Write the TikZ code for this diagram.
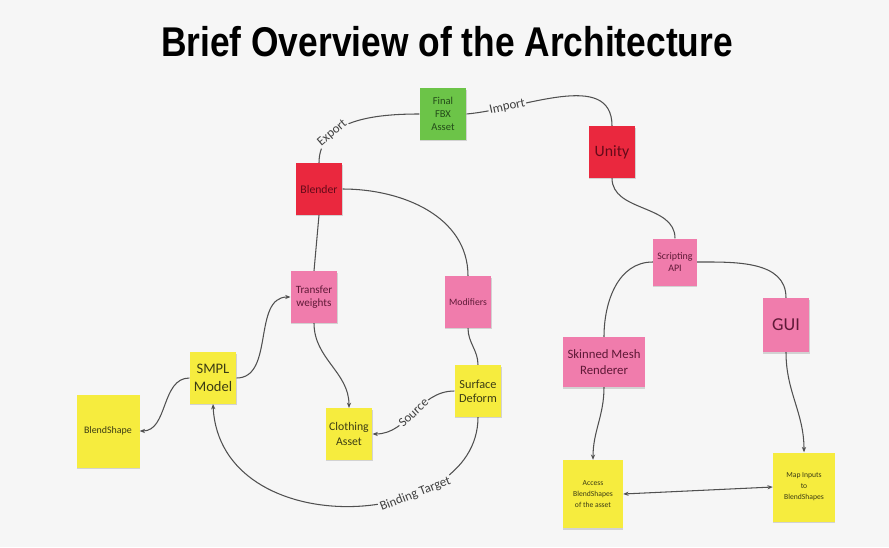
\documentclass[tikz,border=0pt]{standalone}
\usepackage{fontspec}
\setmainfont{Carlito}
\newfontfamily\titlefont{Liberation Sans}
\usepackage{graphicx}
\usetikzlibrary{arrows.meta,shadows}
\pgfdeclarelayer{bg}
\pgfsetlayers{bg,main}
\definecolor{paper}{RGB}{246,246,246}
\definecolor{wire}{RGB}{80,80,80}
\definecolor{notegreen}{RGB}{108,196,72}
\definecolor{notered}{RGB}{234,40,62}
\definecolor{notepink}{RGB}{240,124,172}
\definecolor{noteyellow}{RGB}{246,236,62}
\definecolor{inkgreen}{RGB}{35,75,25}
\definecolor{inkred}{RGB}{100,10,25}
\definecolor{inkpink}{RGB}{95,25,55}
\definecolor{inkyellow}{RGB}{60,60,20}
\tikzset{
    note/.style={rectangle, inner sep=1pt, align=center, minimum width=1.4cm, minimum height=1.55cm,
        drop shadow={shadow xshift=0.2pt, shadow yshift=-1.3pt, opacity=.3}},
    greennote/.style={note, fill=notegreen, text=inkgreen},
    rednote/.style={note, fill=notered, text=inkred},
    pinknote/.style={note, fill=notepink, text=inkpink},
    yellownote/.style={note, fill=noteyellow, text=inkyellow},
    wire/.style={draw=wire, line width=0.9pt},
    arr/.style={-{Stealth[length=4.5pt,width=3.6pt]}},
    elabel/.style={fill=paper, inner sep=1pt, sloped, text=black!75, font=\fontsize{11}{12}\selectfont}
}

\begin{document}
\begin{tikzpicture}
    \begin{pgfonlayer}{bg}
        \fill[paper] (0cm, 0cm) rectangle (26.67cm, 16.41cm);
    \end{pgfonlayer}

    \node (title) at (13.41cm, 15.15cm) {\titlefont\bfseries\fontsize{35.5}{40}\selectfont\scalebox{0.85}[1]{Brief Overview of the Architecture}};

    % blender side
    \node (fbx) at (13.29cm, 12.99cm) [greennote, font=\fontsize{9}{11}\selectfont] {Final\\FBX\\Asset};
    \node (blender) at (9.57cm, 10.74cm) [rednote, font=\fontsize{10}{12}\selectfont] {Blender};
    \node (transfer) at (9.42cm, 7.50cm) [pinknote, font=\fontsize{9.5}{11.5}\selectfont] {Transfer\\weights};
    \node (modifiers) at (14.04cm, 7.35cm) [pinknote, font=\fontsize{8.3}{10}\selectfont] {Modifiers};
    \node (smpl) at (6.39cm, 5.07cm) [yellownote, font=\fontsize{12.4}{15}\selectfont] {SMPL\\Model};
    \node (blendshape) at (3.24cm, 3.48cm) [yellownote, minimum width=1.89cm, minimum height=2.19cm, font=\fontsize{8.5}{10}\selectfont] {BlendShape};
    \node (clothing) at (10.47cm, 3.39cm) [yellownote, font=\fontsize{10}{12.5}\selectfont] {Clothing\\Asset};
    \node (surface) at (14.34cm, 4.68cm) [yellownote, font=\fontsize{10.5}{12}\selectfont] {Surface\\Deform};

    % unity side
    \node (unity) at (18.36cm, 11.85cm) [rednote, font=\fontsize{13.5}{15}\selectfont] {Unity};
    \node (scripting) at (20.25cm, 8.55cm) [pinknote, minimum width=1.32cm, minimum height=1.41cm, font=\fontsize{8.5}{11}\selectfont] {Scripting\\API};
    \node (gui) at (23.58cm, 6.66cm) [pinknote, minimum height=1.62cm, font=\fontsize{15.5}{17}\selectfont] {GUI};
    \node (skinned) at (18.12cm, 5.55cm) [pinknote, minimum width=2.46cm, minimum height=1.5cm, font=\fontsize{10.9}{14}\selectfont] {Skinned Mesh\\Renderer};
    \node (access) at (17.79cm, 1.59cm) [yellownote, minimum width=1.8cm, minimum height=2.04cm, font=\fontsize{6.5}{9.5}\selectfont] {Access\\BlendShapes\\of the asset};
    \node (mapin) at (24.12cm, 1.80cm) [yellownote, minimum width=1.86cm, minimum height=2.07cm, font=\fontsize{6.5}{9.3}\selectfont] {Map Inputs\\to\\BlendShapes};

    \draw[wire] (blender.north) edge[out=90, in=180] node[elabel, pos=0.3] {Export} (fbx.west);
    \draw[wire] (fbx.east) edge[out=5, in=90] node[elabel, pos=0.22] {Import} (unity.north);
    \draw[wire] (unity.south) edge[out=-90, in=90] (scripting.north);
    \draw[wire] (blender.east) edge[out=0, in=90] (modifiers.north);
    \draw[wire] (blender.south) edge (transfer.north);
    \draw[wire] (modifiers.south) edge[out=-90, in=90] (surface.north);
    \draw[wire] (scripting.west) edge[out=180, in=90] (skinned.north);
    \draw[wire] (scripting.east) edge[out=0, in=90] (gui.north);

    \draw[wire] (smpl.east) edge[arr, out=0, in=180] (transfer.west);
    \draw[wire] (smpl.west) edge[arr, out=180, in=0] (blendshape.east);
    \draw[wire] (transfer.south) edge[arr, out=-90, in=90] (clothing.north);
    \draw[wire] (surface.west) edge[arr, out=180, in=0] node[elabel, pos=0.5] {Source} (clothing.east);
    \draw[wire, arr] (surface.south) .. controls +(0cm, -3.45cm) and +(0.21cm, -4.2cm) .. node[elabel, pos=0.32] {Binding Target} (smpl.south);

    \draw[wire] (skinned.south) edge[arr, out=-90, in=90] (access.north);
    \draw[wire] (gui.south) edge[arr, out=-90, in=90] (mapin.north);
    \draw[wire] (access.east) edge[{Stealth[length=4.5pt,width=3.6pt]}-{Stealth[length=4.5pt,width=3.6pt]}] (mapin.west);
\end{tikzpicture}
\end{document}
